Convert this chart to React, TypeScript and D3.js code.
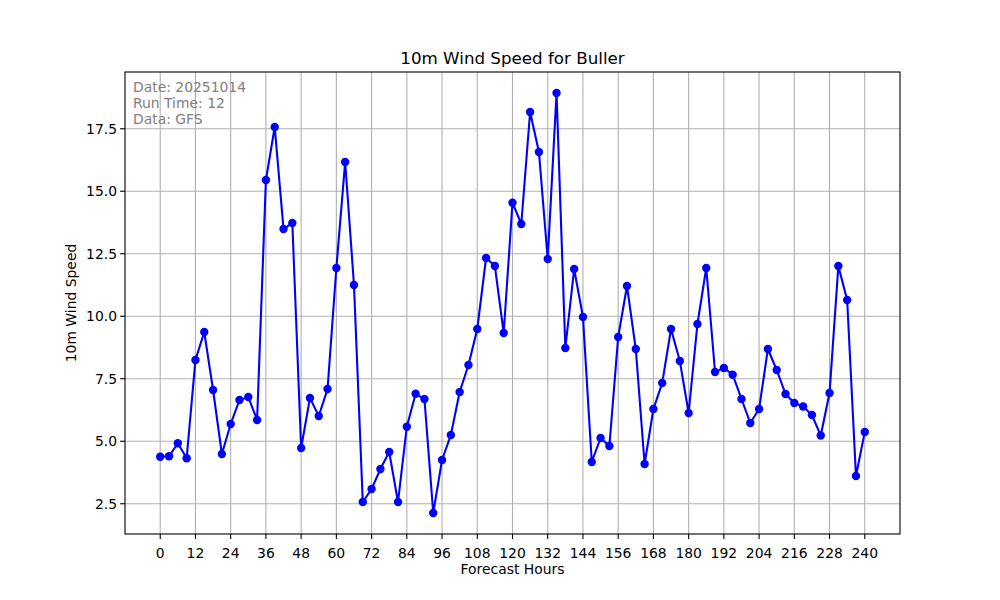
import React from 'react';
import * as d3 from 'd3';

// forecast hours, every 3h from 0 to 240
const hours: number[] = [
  0, 3, 6, 9, 12, 15, 18, 21, 24, 27, 30, 33, 36, 39, 42, 45, 48, 51, 54, 57,
  60, 63, 66, 69, 72, 75, 78, 81, 84, 87, 90, 93, 96, 99, 102, 105, 108, 111, 114, 117,
  120, 123, 126, 129, 132, 135, 138, 141, 144, 147, 150, 153, 156, 159, 162, 165, 168, 171, 174, 177,
  180, 183, 186, 189, 192, 195, 198, 201, 204, 207, 210, 213, 216, 219, 222, 225, 228, 231, 234, 237, 240,
];

const windSpeed: number[] = [
  4.38, 4.40, 4.92, 4.32, 8.25, 9.37, 7.05, 4.49, 5.69, 6.65, 6.77, 5.85, 15.45, 17.57, 13.49, 13.73, 4.73, 6.73, 6.01, 7.09,
  11.93, 16.17, 11.25, 2.57, 3.09, 3.89, 4.57, 2.57, 5.58, 6.90, 6.69, 2.13, 4.25, 5.25, 6.97, 8.05, 9.49, 12.33, 12.01, 9.33,
  14.54, 13.69, 18.17, 16.57, 12.29, 18.93, 8.73, 11.89, 9.97, 4.17, 5.13, 4.81, 9.17, 11.21, 8.69, 4.09, 6.29, 7.33, 9.49, 8.21,
  6.13, 9.69, 11.93, 7.77, 7.93, 7.66, 6.69, 5.73, 6.29, 8.69, 7.85, 6.89, 6.53, 6.39, 6.05, 5.23, 6.93, 12.01, 10.65, 3.61, 5.37,
];

const xTicks: number[] = [0, 12, 24, 36, 48, 60, 72, 84, 96, 108, 120, 132, 144, 156, 168, 180, 192, 204, 216, 228, 240];
const yTicks: number[] = [2.5, 5.0, 7.5, 10.0, 12.5, 15.0, 17.5];
const infoLines: string[] = ['Date: 20251014', 'Run Time: 12', 'Data: GFS'];

const W = 1000;
const H = 600;
const margin = { top: 72, right: 100, bottom: 66, left: 125 };
const font = 'DejaVu Sans, sans-serif';

function padded([lo, hi]: [number, number]): [number, number] {
  const p = (hi - lo) * 0.05;
  return [lo - p, hi + p];
}

export default function App() {
  const innerW = W - margin.left - margin.right;
  const innerH = H - margin.top - margin.bottom;

  const x = d3.scaleLinear()
    .domain(padded(d3.extent(hours) as [number, number]))
    .range([0, innerW]);
  const y = d3.scaleLinear()
    .domain(padded(d3.extent(windSpeed) as [number, number]))
    .range([innerH, 0]);

  const points = hours.map((h, i) => ({ h, v: windSpeed[i] }));
  const line = d3.line<{ h: number; v: number }>()
    .x(d => x(d.h))
    .y(d => y(d.v));

  return (
    <svg width={W} height={H} style={{ position: 'absolute', left: 0, top: 0, background: '#fff' }}>
      <rect width={W} height={H} fill="#fff" />
      <text x={margin.left + innerW / 2} y={64} textAnchor="middle" fontFamily={font} fontSize={16.7}>
        10m Wind Speed for Buller
      </text>
      <g transform={`translate(${margin.left},${margin.top})`}>
        {/* grid */}
        {xTicks.map(t => (
          <line key={'gx' + t} x1={x(t)} x2={x(t)} y1={0} y2={innerH} stroke="#b0b0b0" strokeWidth={1.1} />
        ))}
        {yTicks.map(t => (
          <line key={'gy' + t} x1={0} x2={innerW} y1={y(t)} y2={y(t)} stroke="#b0b0b0" strokeWidth={1.1} />
        ))}

        <path d={line(points) ?? ''} fill="none" stroke="#0000ff" strokeWidth={2.1} />
        {points.map(p => (
          <circle key={p.h} cx={x(p.h)} cy={y(p.v)} r={4.2} fill="#0000ff" />
        ))}

        <rect x={0} y={0} width={innerW} height={innerH} fill="none" stroke="#000" strokeWidth={1.1} />

        {/* x axis */}
        {xTicks.map(t => (
          <g key={'tx' + t} transform={`translate(${x(t)},${innerH})`}>
            <line y2={4.9} stroke="#000" strokeWidth={1.1} />
            <text y={20} textAnchor="middle" fontFamily={font} fontSize={13.9} dominantBaseline="middle">{t}</text>
          </g>
        ))}
        {/* y axis */}
        {yTicks.map(t => (
          <g key={'ty' + t} transform={`translate(0,${y(t)})`}>
            <line x2={-4.9} stroke="#000" strokeWidth={1.1} />
            <text x={-8} textAnchor="end" dominantBaseline="central" fontFamily={font} fontSize={13.9}>{t.toFixed(1)}</text>
          </g>
        ))}

        {infoLines.map((s, i) => (
          <text key={s} x={8} y={20 + i * 16.2} fontFamily={font} fontSize={13.9} fill="#808080">{s}</text>
        ))}
      </g>
      <text x={margin.left + innerW / 2} y={574} textAnchor="middle" fontFamily={font} fontSize={13.9}>Forecast Hours</text>
      <text transform={`translate(76,${margin.top + innerH / 2}) rotate(-90)`} textAnchor="middle" fontFamily={font} fontSize={13.9}>
        10m Wind Speed
      </text>
    </svg>
  );
}
